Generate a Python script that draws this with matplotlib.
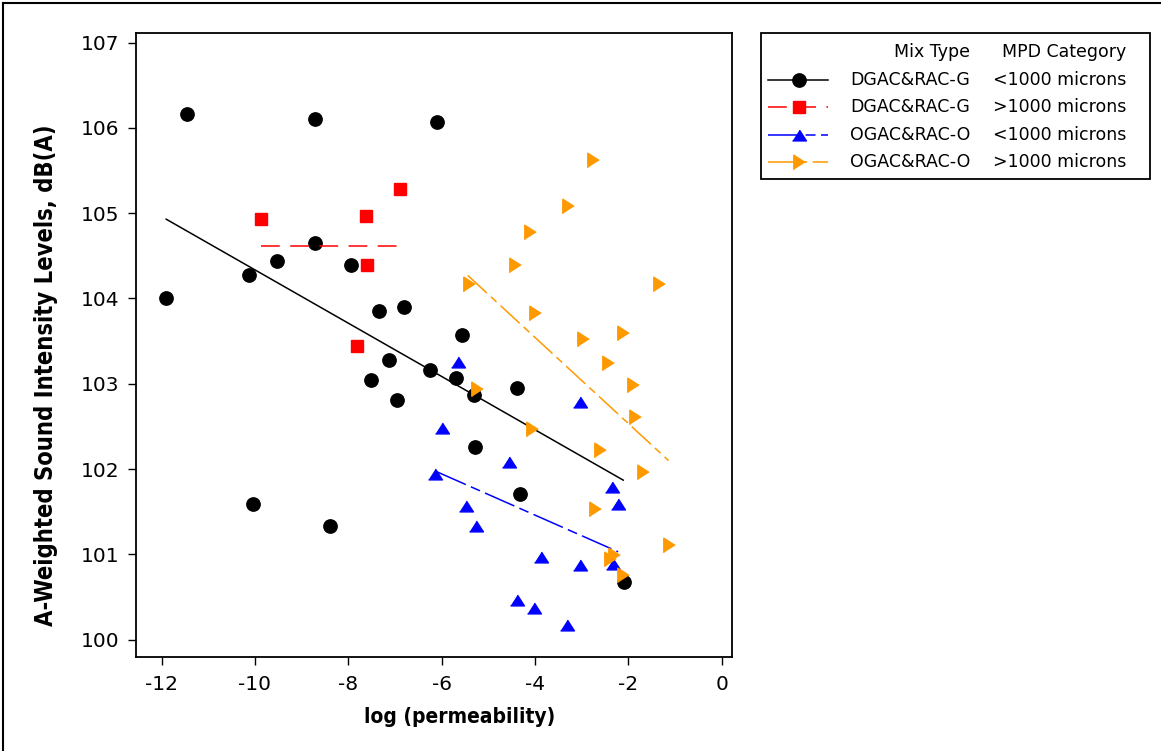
import matplotlib
matplotlib.use("Agg")
import matplotlib.pyplot as plt
from matplotlib.lines import Line2D

# data: log(permeability) vs sound intensity dB(A)
dg_small_x = [-11.91, -11.46, -8.71, -6.10, -8.71, -9.53, -10.12, -7.94, -7.34, -6.80, -5.56,
              -7.12, -6.25, -7.52, -6.96, -5.69, -5.31, -4.39, -5.29, -4.32, -10.04, -8.39, -2.09]
dg_small_y = [104.00, 106.16, 106.10, 106.07, 104.65, 104.44, 104.27, 104.39, 103.85, 103.90, 103.57,
              103.28, 103.16, 103.04, 102.81, 103.07, 102.87, 102.95, 102.26, 101.71, 101.59, 101.33, 100.67]

dg_large_x = [-9.87, -7.61, -6.89, -7.60, -7.81]
dg_large_y = [104.93, 104.97, 105.28, 104.39, 103.44]

og_small_x = [-5.65, -3.04, -6.00, -4.56, -6.14, -2.36, -2.22, -5.48, -5.26, -3.88, -3.04, -2.32,
              -4.38, -4.02, -3.32]
og_small_y = [103.26, 102.79, 102.48, 102.08, 101.94, 101.79, 101.59, 101.57, 101.33, 100.97, 100.88,
              100.89, 100.47, 100.37, 100.17]

og_large_x = [-2.75, -3.29, -4.11, -4.42, -5.41, -1.34, -4.00, -2.98, -2.12, -2.44, -1.91, -5.24,
              -1.86, -4.06, -2.61, -1.69, -2.71, -1.12, -2.39, -2.31, -2.12]
og_large_y = [105.62, 105.09, 104.78, 104.39, 104.17, 104.17, 103.83, 103.53, 103.59, 103.24, 102.99,
              102.94, 102.61, 102.47, 102.22, 101.96, 101.53, 101.11, 100.95, 100.99, 100.76]

# fitted lines (end points)
fit_dg_small = ([-11.90, -2.11], [104.93, 101.87])
fit_dg_large = ([-9.87, -6.88], [104.61, 104.61])
fit_og_small = ([-6.11, -2.22], [101.97, 101.03])
fit_og_large = ([-5.44, -1.14], [104.27, 102.10])

mix_types = ["DGAC&RAC-G", "DGAC&RAC-G", "OGAC&RAC-O", "OGAC&RAC-O"]
mpd_cats = ["<1000 microns", ">1000 microns", "<1000 microns", ">1000 microns"]

ORANGE = "#FF9900"
tri_up = [(-1, -0.78), (1, -0.78), (0, 0.78)]
tri_right = [(-0.78, -1), (-0.78, 1), (0.78, 0)]

styles = [
    dict(color="black", marker="o", ms=9.6, dashes=None),
    dict(color="red", marker="s", ms=8.4, dashes=(12.3, 6.8)),
    dict(color="blue", marker=tri_up, ms=10, dashes=(21, 3.6, 6.5, 3.6)),
    dict(color=ORANGE, marker=tri_right, ms=10.5, dashes=(17, 3.6, 5, 3.6)),
]

plt.rcParams["font.family"] = ["DejaVu Sans"]
plt.rcParams["axes.unicode_minus"] = False

fig = plt.figure(figsize=(11.61, 7.51), dpi=100)
ax = fig.add_axes([0.117, 0.1256, 0.5135, 0.8309])

series = [(dg_small_x, dg_small_y, fit_dg_small),
          (dg_large_x, dg_large_y, fit_dg_large),
          (og_small_x, og_small_y, fit_og_small),
          (og_large_x, og_large_y, fit_og_large)]

for i, ((xs, ys, fit), st) in enumerate(zip(series, styles)):
    ax.plot(xs, ys, ls="none", marker=st["marker"], ms=st["ms"], color=st["color"],
            mec=st["color"], zorder=3 + i)
    ln, = ax.plot(fit[0], fit[1], color=st["color"], lw=1.1, zorder=3 + i)
    if st["dashes"]:
        ln.set_dashes(st["dashes"])

ax.set_xlim(-12.55, 0.22)
ax.set_ylim(99.80, 107.117)
ax.set_xticks(range(-12, 1, 2))
ax.set_yticks(range(100, 108))
ax.tick_params(direction="out", length=6, width=1, labelsize=14.5, colors="black")
ax.tick_params(axis="x", pad=7)
ax.tick_params(axis="y", pad=6)
for sp in ax.spines.values():
    sp.set_linewidth(1.3)

ax.set_xlabel("log (permeability)", fontsize=15, fontweight="bold", fontstretch="condensed")
ax.set_ylabel("A-Weighted Sound Intensity Levels, dB(A)", fontsize=17, fontweight="bold",
              fontstretch="condensed")
ax.xaxis.set_label_coords(0.543, -0.08)
ax.yaxis.set_label_coords(-0.131, 0.451)

# legend drawn by hand (two right-aligned text columns)
W, H = 1161, 751
def fx(px):
    return px / W
def fy(py):
    return 1 - py / H

box = plt.Rectangle((fx(761), fy(179)), fx(1150) - fx(761), fy(32.7) - fy(179),
                    transform=fig.transFigure, fill=False, ec="black", lw=1.3)
fig.add_artist(box)

leg_font = dict(fontsize=12.5)
fig.text(fx(970), fy(51.7), "Mix Type", ha="right", va="center", **leg_font)
fig.text(fx(1126), fy(51.7), "MPD Category", ha="right", va="center", **leg_font)
row_y = [80, 107.3, 135, 162.3]
for ry, st, mt, mc in zip(row_y, styles, mix_types, mpd_cats):
    ln = Line2D([fx(768), fx(828)], [fy(ry), fy(ry)], transform=fig.transFigure,
                color=st["color"], lw=1.1)
    if st["dashes"]:
        ln.set_dashes(st["dashes"])
    fig.add_artist(ln)
    fig.add_artist(Line2D([fx(799)], [fy(ry)], transform=fig.transFigure, ls="none",
                          marker=st["marker"], ms=st["ms"], color=st["color"], mec=st["color"]))
    fig.text(fx(970), fy(ry), mt, ha="right", va="center", **leg_font)
    fig.text(fx(1126), fy(ry), mc, ha="right", va="center", **leg_font)

# outer frame (top and left edges visible in the original)
fig.add_artist(Line2D([0.003, 1.0], [0.996, 0.996], transform=fig.transFigure, color="black", lw=1.5))
fig.add_artist(Line2D([0.003, 0.003], [0.0, 0.996], transform=fig.transFigure, color="black", lw=1.5))

fig.savefig("out.png", dpi=100)
